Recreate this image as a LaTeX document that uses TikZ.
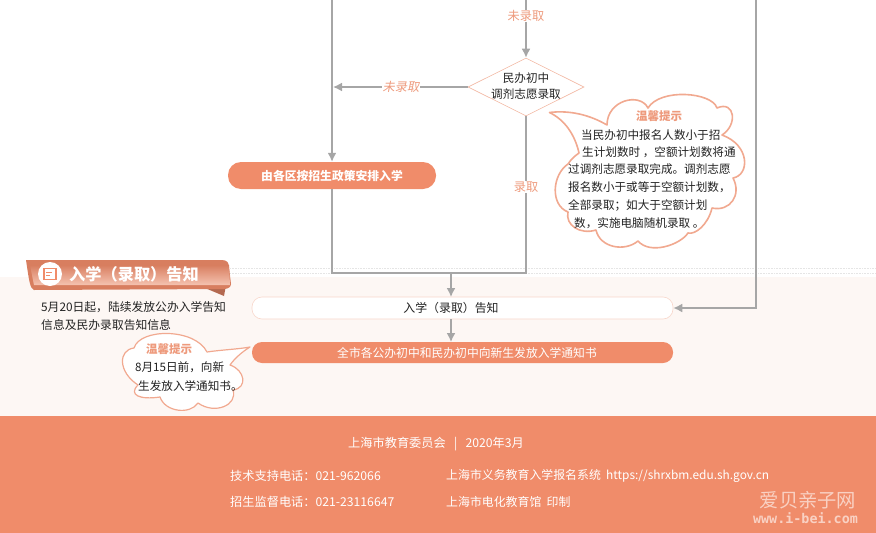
\documentclass[tikz,border=0pt]{standalone}
\usepackage{fontspec}
\setmainfont{Noto Sans CJK SC}
\newfontfamily\wmfont{DejaVu Sans Mono}
\usetikzlibrary{arrows.meta,shapes.geometric}
\definecolor{sal}{HTML}{F08C6A}
\definecolor{salt}{HTML}{EE9A7C}
\definecolor{gline}{HTML}{A6A6A6}
\definecolor{pale}{HTML}{FDF7F4}
\definecolor{txt}{HTML}{222222}
\tikzset{
 flow/.style={draw=gline,line width=1.6pt,-{Latex[length=9pt,width=9pt]}},
 flowp/.style={draw=gline,line width=1.6pt},
 orangepill/.style={rounded corners=10pt,fill=sal,text=white,align=center,inner sep=0pt},
 whitepill/.style={rounded corners=10pt,fill=white,draw=salt!40,line width=.6pt,text=txt,align=center,inner sep=0pt},
 lab/.style={text=salt,font=\fontsize{12.2}{14}\selectfont,inner sep=0.5pt},
 body/.style={text=txt,font=\fontsize{11.6}{15}\selectfont,anchor=west,inner sep=0pt},
 foot/.style={text=white,font=\fontsize{12.2}{14}\selectfont,anchor=west,inner sep=0pt},
 cloud line/.style={draw=salt!85,line width=1.6pt,fill=white,line join=round},
 tiptitle/.style={text=salt,font=\fontsize{11.5}{14}\selectfont\bfseries,inner sep=0pt},
}
\begin{document}
\begin{tikzpicture}[x=1pt,y=-1pt]
\useasboundingbox (0,0) rectangle (876,533);
% backgrounds
\fill[pale] (0,277) rectangle (876,416);
\fill[sal] (0,416) rectangle (876,533);
\draw[black!10,densely dotted,line width=.6pt] (230,268) -- (876,268);
\draw[black!10,densely dotted,line width=.6pt] (230,273) -- (876,273);
% nodes
\node[draw=salt!70,fill=white,line width=.6pt,diamond,minimum width=116pt,minimum height=58pt,inner sep=0pt] (dia) at (526,87) {};
\node[text=txt,align=center,font=\fontsize{11.6}{15.5}\selectfont] (diat) at (526,86) {民办初中\\调剂志愿录取};
\node[orangepill,minimum width=208pt,minimum height=27pt,rounded corners=13pt,font=\fontsize{11.8}{13}\selectfont\bfseries] (qu) at (332,175.5) {由各区按招生政策安排入学};
\node[whitepill,minimum width=421pt,minimum height=22pt] (tz) at (462.5,308) {};
\node[orangepill,minimum width=421pt,minimum height=21pt] (fa) at (462.5,352.5) {};
\node[text=txt,font=\fontsize{11.9}{13}\selectfont,inner sep=0pt] (tzt) at (451,308) {入学（录取）告知};
\node[text=white,font=\fontsize{11.8}{13}\selectfont,inner sep=0pt] (fat) at (467,352.5) {全市各公办初中和民办初中向新生发放入学通知书};
% coordinates
\coordinate (t1) at (526,0);
\coordinate (t2) at (332,0);
\coordinate (t3) at (756,0);
\coordinate (c1) at (756,308);
\coordinate (l1) at (332,273);
\coordinate (l2) at (526,273);
\coordinate (m) at (451,273);
\coordinate (mt) at (451,297);
\coordinate (mb) at (451,319);
\coordinate (mf) at (451,342);
\coordinate (la) at (333,87);
% connectors
\draw[flow] (t1) -- (dia.north);
\draw[flow] (t2) -- (qu.north);
\draw[flow] (dia.west) -- (la);
\draw[flowp] (qu.south) -- (l1) -- (l2) -- (dia.south);
\draw[flow] (m) -- (mt);
\draw[flow] (mb) -- (mf);
\draw[flow] (t3) -- (c1) -- (tz.east);
% labels
\node[lab,fill=white] (a1) at (526,16) {未录取};
\node[lab,fill=white] (a2) at (401,87) {\addfontfeature{FakeSlant=0.2}未录取};
\node[lab,fill=white] (a3) at (526,187) {录取};
% big cloud
\draw[cloud line] (549.5,112.5) .. controls (570,110) and (590,115) .. (607,125)
 .. controls (607,100) and (640,92) .. (648,108)
 .. controls (660,88) and (712,92) .. (717,108)
 .. controls (735,100) and (738,125) .. (722,135)
 .. controls (750,145) and (750,175) .. (733,178)
 .. controls (742,195) and (730,212) .. (712,208)
 .. controls (708,225) and (695,235) .. (688,233)
 .. controls (680,245) and (650,255) .. (638,241)
 .. controls (625,252) and (600,248) .. (596,230)
 .. controls (580,235) and (565,225) .. (568,212)
 .. controls (550,205) and (552,175) .. (568,164)
 .. controls (572,158) and (575,156) .. (579,153)
 .. controls (575,135) and (565,120) .. (549.5,112.5) -- cycle;
\node[tiptitle] (t4) at (659,116) {温馨提示};
\node[body] (b1) at (581,135) {当民办初中报名人数小于招};
\node[body] (b2) at (582,152) {生计划数时 ，空额计划数将通};
\node[body] (b3) at (568,169) {过调剂志愿录取完成。调剂志愿};
\node[body] (b4) at (568,187) {报名数小于或等于空额计划数，};
\node[body] (b5) at (568,205) {全部录取；如大于空额计划};
\node[body] (b6) at (574,223) {数，实施电脑随机录取 。};
% banner
\fill[sal!75!black] (205,288) -- (224,296) -- (226,285) -- cycle;
\fill[sal!90!black] (26,260) -- (222,260) .. controls (227,260) and (229,263) .. (229,267) -- (231,284) .. controls (231,287) and (228,289) .. (224,289) -- (34,290) .. controls (30,289) and (29,280) .. (26,260) -- cycle;
\shade[top color=sal!90!black,bottom color=salt!60!white] (30,265) -- (229,265) -- (230,285) -- (34,285) -- cycle;
\node[circle,fill=white,minimum size=24pt,inner sep=0pt] (ic) at (50,274) {};
\draw[sal,line width=1.2pt] (44,268.5) rectangle (56,279.5);
\draw[sal,line width=.9pt] (46,272) -- (52,272) (46,275) -- (50,275);
\node[text=white,font=\fontsize{16.2}{18}\selectfont\bfseries,anchor=west,inner sep=0pt] (ti) at (69,274) {入学（录取）告知};
\node[body,font=\fontsize{11.8}{15}\selectfont] (c11) at (41,307) {5月20日起，陆续发放公办入学告知};
\node[body,font=\fontsize{11.8}{15}\selectfont] (c12) at (41,325) {信息及民办录取告知信息};
% small cloud
\draw[cloud line,line width=1.2pt] (250,347) .. controls (240,349) and (220,350) .. (207,352)
 .. controls (195,328) and (140,328) .. (134,348)
 .. controls (118,350) and (118,372) .. (138,385)
 .. controls (128,395) and (140,400) .. (160,397)
 .. controls (165,412) and (190,415) .. (198,403)
 .. controls (215,415) and (238,405) .. (233,390)
 .. controls (248,388) and (245,370) .. (230,365)
 .. controls (235,358) and (242,352) .. (250,347) -- cycle;
\node[tiptitle] (t5) at (169,349) {温馨提示};
\node[body] (s1) at (135,367) {8月15日前，向新};
\node[body] (s2) at (138,386) {生发放入学通知书。};
% footer
\node[text=white,font=\fontsize{12.2}{14}\selectfont] (f0) at (436,444) {上海市教育委员会 \ \ | \ \ 2020年3月};
\node[foot] (f1) at (230,476) {技术支持电话：021-962066};
\node[foot] (f2) at (230,502) {招生监督电话：021-23116647};
\node[foot,font=\fontsize{11.9}{14}\selectfont] (f3) at (446,476) {上海市义务教育入学报名系统 \ https://shrxbm.edu.sh.gov.cn};
\node[foot,font=\fontsize{11.9}{14}\selectfont] (f4) at (446,502) {上海市电化教育馆 \ 印制};
\node[text=white,opacity=.6,font=\fontsize{19.3}{21}\selectfont,inner sep=0pt] (w1) at (808,500) {爱贝亲子网};
\node[text=white,opacity=.6,font=\fontsize{13.4}{15}\wmfont\bfseries,inner sep=0pt] (w2) at (805.5,518) {www.i-bei.com};
\end{tikzpicture}
\end{document}
